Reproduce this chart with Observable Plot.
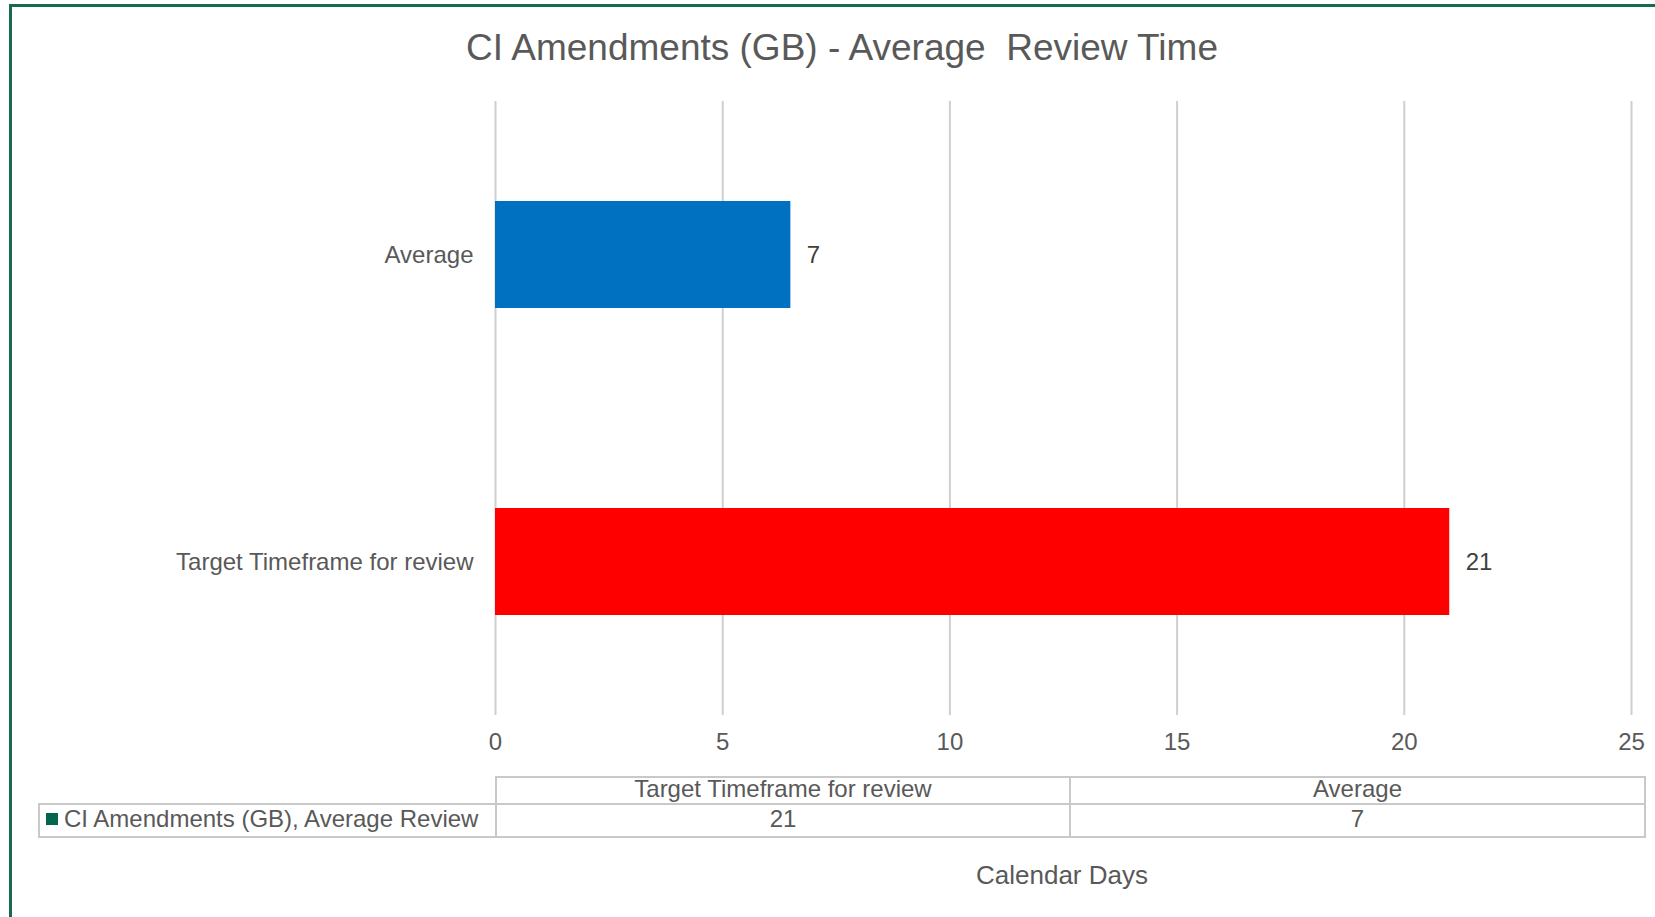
<!DOCTYPE html>
<html>
<head>
<meta charset="utf-8">
<script src="https://cdn.jsdelivr.net/npm/d3@7"></script>
<script src="https://cdn.jsdelivr.net/npm/@observablehq/plot@0.6"></script>
<style>
  html, body { margin: 0; padding: 0; background: #fff; }
  #wrap { position: relative; width: 1655px; height: 917px; overflow: hidden; background: #fff;
          font-family: "Liberation Sans", Arial, sans-serif; color: #595959; }
  #frame { position: absolute; left: 9px; top: 4px; width: 1700px; height: 1000px;
           border-left: 3px solid #17694f; border-top: 3px solid #17694f; box-sizing: border-box; }
  #title { position: absolute; left: 342px; width: 1000px; top: 29px; text-align: center;
           font-size: 37px; line-height: 37px; white-space: pre; }
  #chart { position: absolute; left: 0; top: 0; }
  .cell { position: absolute; box-sizing: border-box; border: 2px solid #c9c9c9; font-size: 24px;
          display: flex; align-items: center; justify-content: center; white-space: nowrap; color: #595959;
          padding-bottom: 3px; }
  .legend { justify-content: flex-start; padding-left: 6px; }
  .swatch { display: inline-block; width: 12px; height: 12px; margin-right: 6px; }
  #xlabel { position: absolute; left: 862px; width: 400px; top: 862px; text-align: center;
            font-size: 26px; line-height: 26px; }
</style>
</head>
<body>
<div id="wrap">
  <div id="frame"></div>
  <div id="title"></div>
  <div id="chart"></div>
  <div id="table"></div>
  <div id="xlabel"></div>
</div>
<script>
// ---- data ----
const titleText = "CI Amendments (GB) - Average  Review Time";
const seriesName = "CI Amendments (GB), Average Review";
const axisTitle = "Calendar Days";
const categories = ["Average", "Target Timeframe for review"];   // bar order top → bottom
const values = [6.5, 21];
const tableCategories = ["Target Timeframe for review", "Average"]; // data table column order
const xTicks = [0, 5, 10, 15, 20, 25];

// ---- styles ----
const barColors = ["#0070c0", "#ff0000"];
const seriesColor = "#00664f";
const fmt = d3.format(".0f");

const data = categories.map((c, i) => ({category: c, value: values[i]}));

document.getElementById("title").textContent = titleText;
document.getElementById("xlabel").textContent = axisTitle;

const chart = Plot.plot({
  width: 1655,
  height: 760,
  marginLeft: 495,
  marginRight: 24,
  marginTop: 101,
  marginBottom: 45,
  style: {fontFamily: '"Liberation Sans", Arial, sans-serif', fontSize: "24px", color: "#595959", background: "transparent"},
  x: {domain: [0, 25], ticks: xTicks, tickSize: 0, tickPadding: 17, label: null},
  y: {domain: categories, paddingInner: 0.65, paddingOuter: 0.325, tickSize: 0, tickPadding: 22, label: null},
  color: {domain: categories, range: barColors},
  marks: [
    Plot.gridX(xTicks, {stroke: "#cfcfcf", strokeOpacity: 1, strokeWidth: 2}),
    Plot.barX(data, {x: "value", y: "category", fill: "category"}),
    Plot.text(data, {x: "value", y: "category", text: d => fmt(d.value), dx: 16, textAnchor: "start",
                     fill: "#404040", fontSize: 24})
  ]
});
document.getElementById("chart").appendChild(chart);

// ---- data table below the chart ----
const table = document.getElementById("table");
const colX = [495, 1069, 1644];
function cell(left, top, w, h, text, cls) {
  const d = document.createElement("div");
  d.className = "cell" + (cls ? " " + cls : "");
  Object.assign(d.style, {left: left + "px", top: top + "px", width: w + "px", height: h + "px"});
  if (text !== null) d.textContent = text;
  table.appendChild(d);
  return d;
}
tableCategories.forEach((c, i) => {
  cell(colX[i], 776, colX[i + 1] - colX[i] + 2, 29, c);
  const v = values[categories.indexOf(c)];
  cell(colX[i], 803, colX[i + 1] - colX[i] + 2, 35, fmt(v));
});
const lg = cell(38, 803, 459, 35, null, "legend");
const sw = document.createElement("span");
sw.className = "swatch";
sw.style.background = seriesColor;
lg.appendChild(sw);
lg.appendChild(document.createTextNode(seriesName));
</script>
</body>
</html>
